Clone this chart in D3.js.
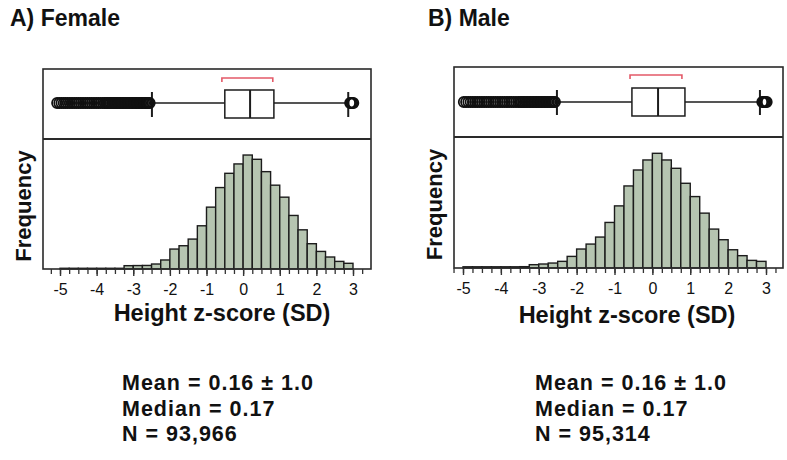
<!DOCTYPE html>
<html>
<head>
<meta charset="utf-8">
<script src="https://cdn.jsdelivr.net/npm/d3@7/dist/d3.min.js"></script>
<style>
  html, body { margin: 0; padding: 0; background: #fff; }
  svg { display: block; font-family: "Liberation Sans", Arial, Helvetica, sans-serif; }
</style>
</head>
<body>
<svg id="chart" width="787" height="460"></svg>
<script>
// ---------- DATA ----------
const binStarts = [-5, -4.75, -4.5, -4.25, -4, -3.75, -3.5, -3.25, -3, -2.75, -2.5, -2.25,
  -2, -1.75, -1.5, -1.25, -1, -0.75, -0.5, -0.25, 0, 0.25, 0.5, 0.75,
  1, 1.25, 1.5, 1.75, 2, 2.25, 2.5, 2.75];
const binWidth = 0.25;

const femaleCounts = [60, 60, 60, 60, 60, 60, 60, 280, 290, 300, 420, 760,
  1680, 1960, 2520, 3640, 5210, 6860, 8060, 8850, 9600, 9240, 8200, 7060,
  6050, 4510, 3300, 2130, 1480, 1010, 640, 480];
const maleCounts = [100, 100, 100, 100, 100, 100, 110, 275, 330, 410, 550, 960,
  1570, 1980, 2560, 3770, 5140, 6790, 8110, 8940, 9490, 8940, 8250, 7010,
  5910, 4540, 3220, 2340, 1510, 1020, 630, 550];

// box plot summaries: [lower whisker, Q1, median, Q3, upper whisker]
const femaleBox = [-2.49, -0.5, 0.19, 0.84, 2.87];
const maleBox = [-2.52, -0.54, 0.15, 0.86, 2.84];
// red bracket range above box
const femaleBracket = [-0.58, 0.81];
const maleBracket = [-0.59, 0.78];

const femaleOutliers = [-5.08, -5.02, -4.96, -4.9, -4.85, -4.79, -4.73, -4.67, -4.61, -4.55,
  -4.49, -4.43, -4.37, -4.31, -4.25, -4.19, -4.13, -4.07, -4.01, -3.95, -3.89, -3.83, -3.78,
  -3.74, -3.7, -3.66, -3.62, -3.58, -3.54, -3.5, -3.46, -3.42,
  -3.38, -3.34, -3.3, -3.26, -3.22, -3.18, -3.14, -3.1, -3.06, -3.02, -2.98, -2.94, -2.9,
  -2.86, -2.82, -2.78, -2.74, -2.7, -2.66, -2.62, -2.58, -2.55,
  2.92, 2.95, 2.98, 3.01];
const maleOutliers = [-4.98, -4.92, -4.86, -4.8, -4.74, -4.68, -4.62, -4.56, -4.5, -4.44,
  -4.38, -4.32, -4.26, -4.2, -4.14, -4.08, -4.02, -3.96, -3.9, -3.84, -3.78, -3.72, -3.66,
  -3.6, -3.54, -3.49, -3.45, -3.41, -3.37, -3.33, -3.29, -3.25, -3.21,
  -3.17, -3.13, -3.09, -3.05, -3.01, -2.97, -2.93, -2.89, -2.85, -2.81, -2.77, -2.73,
  -2.69, -2.65, -2.61, -2.57,
  2.9, 2.93, 2.96, 2.99, 3.02];

const majorTicks = [-5, -4, -3, -2, -1, 0, 1, 2, 3];
const tickLabels = ["-5", "-4", "-3", "-2", "-1", "0", "1", "2", "3"];

const titles = ["A) Female", "B) Male"];
const xAxisTitle = "Height z-score (SD)";
const yAxisTitle = "Frequency";
const femaleStats = ["Mean = 0.16 \u00B1 1.0", "Median = 0.17", "N = 93,966"];
const maleStats = ["Mean = 0.16 \u00B1 1.0", "Median = 0.17", "N = 95,314"];

// ---------- LAYOUT ----------
const panels = [
  { title: titles[0], counts: femaleCounts, box: femaleBox, bracket: femaleBracket, outliers: femaleOutliers, stats: femaleStats,
    left: 43, right: 371, top: 69, sep: 139, base: 269, xA: 60, xB: 353, yMax: 10950,
    whiskerY: 103, boxTop: 90, boxBot: 118, bracketY: 78,
    titleX: 10, freqX: 31, labelX: 222, labelY: 321, statX: 122 },
  { title: titles[1], counts: maleCounts, box: maleBox, bracket: maleBracket, outliers: maleOutliers, stats: maleStats,
    left: 454, right: 783, top: 67, sep: 137, base: 268, xA: 463, xB: 766, yMax: 10840,
    whiskerY: 102, boxTop: 88, boxBot: 116, bracketY: 75,
    titleX: 428, freqX: 442, labelX: 627, labelY: 323, statX: 535 }
];

const svg = d3.select("#chart");
const ink = "#1c1c1c";
const barFill = "#b6c5b1";
const bracketColor = "#e35a68";

panels.forEach(p => {
  const g = svg.append("g");
  const x = d3.scaleLinear().domain([-5, 3]).range([p.xA, p.xB]);
  const y = d3.scaleLinear().domain([0, p.yMax]).range([p.base, p.sep]);

  // title
  g.append("text").attr("x", p.titleX).attr("y", 26)
    .attr("font-size", 23).attr("font-weight", "bold").attr("fill", "#111")
    .text(p.title);

  // histogram bars
  g.append("g").selectAll("rect").data(binStarts)
    .join("rect")
    .attr("x", d => x(d))
    .attr("width", d => x(d + binWidth) - x(d))
    .attr("y", (d, i) => y(p.counts[i]))
    .attr("height", (d, i) => y(0) - y(p.counts[i]))
    .attr("fill", barFill)
    .attr("stroke", ink)
    .attr("stroke-width", 1.4);

  // frame
  g.append("rect").attr("x", p.left).attr("y", p.top)
    .attr("width", p.right - p.left).attr("height", p.base - p.top)
    .attr("fill", "none").attr("stroke", "#2a2a2a").attr("stroke-width", 1.6);
  g.append("line").attr("x1", p.left).attr("x2", p.right)
    .attr("y1", p.sep).attr("y2", p.sep)
    .attr("stroke", "#2a2a2a").attr("stroke-width", 2);

  // x axis ticks: minor then major
  const minorAxis = d3.axisBottom(x).tickValues(d3.range(-5.25, 3.26, 0.25))
    .tickSize(5).tickFormat("");
  const gMinor = g.append("g").attr("transform", `translate(0,${p.base})`).call(minorAxis);
  gMinor.select(".domain").remove();
  gMinor.selectAll("line").attr("stroke", "#333").attr("stroke-width", 1.3);

  const majorAxis = d3.axisBottom(x).tickValues(majorTicks)
    .tickSize(7).tickPadding(8)
    .tickFormat((d, i) => tickLabels[i]);
  const gMajor = g.append("g").attr("transform", `translate(0,${p.base})`).call(majorAxis);
  gMajor.select(".domain").remove();
  gMajor.selectAll("line").attr("stroke", "#333").attr("stroke-width", 1.4);
  gMajor.selectAll("text").attr("font-size", 16).attr("fill", "#111")
    .attr("font-family", "'Liberation Sans', Arial, sans-serif");

  // box plot
  const [wLo, q1, med, q3, wHi] = p.box;
  g.append("line").attr("x1", x(wLo)).attr("x2", x(q1)).attr("y1", p.whiskerY).attr("y2", p.whiskerY)
    .attr("stroke", ink).attr("stroke-width", 1.5);
  g.append("line").attr("x1", x(q3)).attr("x2", x(wHi)).attr("y1", p.whiskerY).attr("y2", p.whiskerY)
    .attr("stroke", ink).attr("stroke-width", 1.5);
  [wLo, wHi].forEach(v => {
    g.append("line").attr("x1", x(v)).attr("x2", x(v))
      .attr("y1", p.boxTop + 2).attr("y2", p.boxBot - 1)
      .attr("stroke", ink).attr("stroke-width", 2);
  });
  g.append("rect").attr("x", x(q1)).attr("y", p.boxTop)
    .attr("width", x(q3) - x(q1)).attr("height", p.boxBot - p.boxTop)
    .attr("fill", "#fff").attr("stroke", ink).attr("stroke-width", 1.5);
  g.append("line").attr("x1", x(med)).attr("x2", x(med)).attr("y1", p.boxTop).attr("y2", p.boxBot)
    .attr("stroke", ink).attr("stroke-width", 2);

  // outliers
  g.append("g").selectAll("circle").data(p.outliers).join("circle")
    .attr("cx", d => x(d)).attr("cy", p.whiskerY).attr("r", 5)
    .attr("fill", "none").attr("stroke", "#111").attr("stroke-width", 1.8);

  // red bracket
  const [bL, bR] = p.bracket;
  g.append("path")
    .attr("d", `M${x(bL)},${p.bracketY + 4}L${x(bL)},${p.bracketY}L${x(bR)},${p.bracketY}L${x(bR)},${p.bracketY + 4}`)
    .attr("fill", "none").attr("stroke", bracketColor).attr("stroke-width", 1.6);

  // axis titles
  g.append("text").attr("x", p.labelX).attr("y", p.labelY)
    .attr("text-anchor", "middle").attr("font-size", 23.5).attr("font-weight", "bold").attr("fill", "#111")
    .text(xAxisTitle);
  g.append("text")
    .attr("transform", `translate(${p.freqX},${(p.sep + p.base) / 2 + 2}) rotate(-90)`)
    .attr("text-anchor", "middle").attr("font-size", 22).attr("font-weight", "bold").attr("fill", "#111")
    .text(yAxisTitle);

  // stats
  g.append("g").selectAll("text").data(p.stats).join("text")
    .attr("x", p.statX).attr("y", (d, i) => 390 + i * 25.5)
    .attr("font-size", 21.5).attr("font-weight", "bold").attr("letter-spacing", 1).attr("fill", "#111")
    .text(d => d);
});
</script>
</body>
</html>
